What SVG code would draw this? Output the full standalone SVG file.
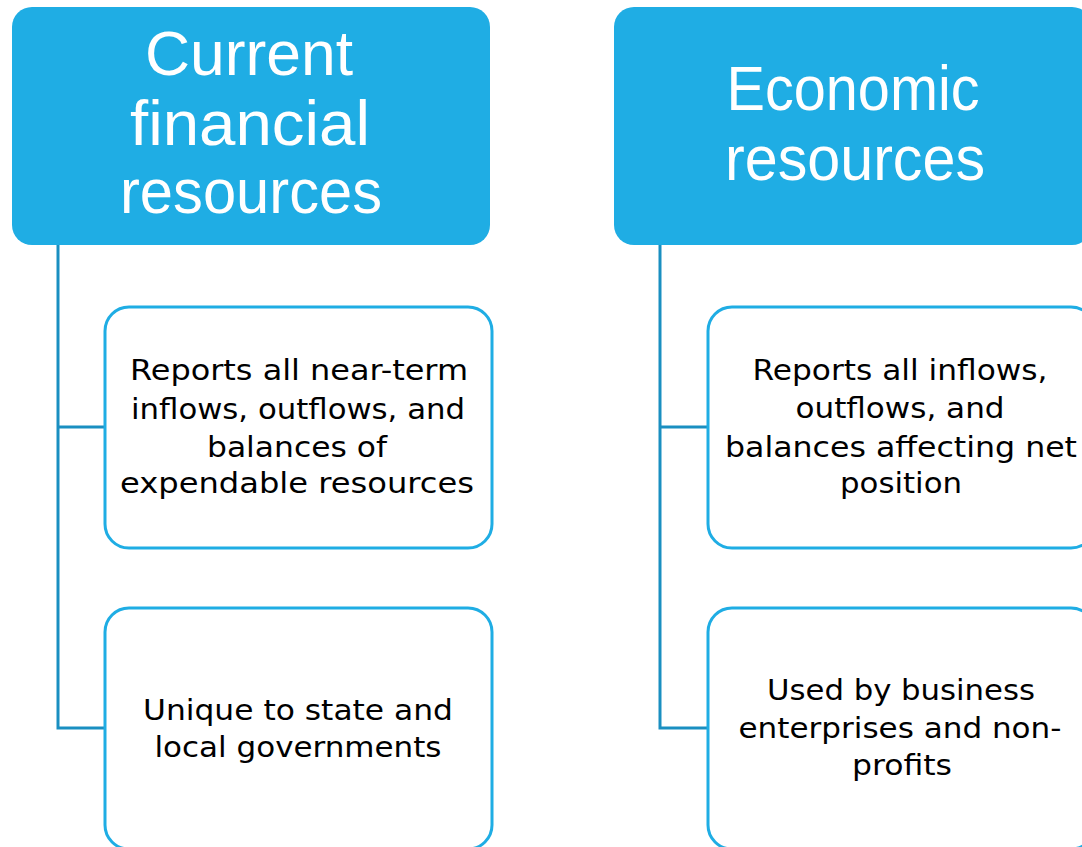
<svg xmlns="http://www.w3.org/2000/svg" width="1082" height="847" viewBox="0 0 1082 847">
  <style>
    .head { fill: #1FADE4; }
    .head-text { font-family: "Liberation Sans", Arial, sans-serif; font-size: 63px; fill: #ffffff; text-anchor: middle; }
    .item { fill: #ffffff; stroke: #1FADE4; stroke-width: 3; }
    .item-text { font-family: "DejaVu Sans", "Liberation Sans", sans-serif; font-size: 29px; fill: #000000; text-anchor: middle; }
    .link { fill: none; stroke: #1A8FC1; stroke-width: 3; }
  </style>

  <rect width="1082" height="847" fill="#ffffff"/>

  <!-- tree connectors -->
  <g id="connectors">
    <path class="link" d="M58,245 V728 H106 M58,427 H106"/>
    <path class="link" d="M660,245 V728 H708 M660,427 H708"/>
  </g>

  <!-- left column (tspans are written without whitespace between them so centring is exact) -->
  <g id="current-financial">
    <rect class="head" x="12" y="7" width="478" height="238" rx="20"/>
    <text class="head-text"><tspan x="249" y="75" textLength="208" lengthAdjust="spacingAndGlyphs">Current</tspan><tspan x="250" y="145" textLength="240" lengthAdjust="spacingAndGlyphs">financial</tspan><tspan x="251" y="213" textLength="262" lengthAdjust="spacingAndGlyphs">resources</tspan></text>
  </g>

  <g id="near-term">
    <rect class="item" x="105" y="307" width="387" height="241" rx="24"/>
    <text class="item-text"><tspan x="299" y="380" textLength="338" lengthAdjust="spacingAndGlyphs">Reports all near-term</tspan><tspan x="298" y="419" textLength="334" lengthAdjust="spacingAndGlyphs">inflows, outflows, and</tspan><tspan x="297" y="457" textLength="180" lengthAdjust="spacingAndGlyphs">balances of</tspan><tspan x="297" y="493" textLength="354" lengthAdjust="spacingAndGlyphs">expendable resources</tspan></text>
  </g>

  <g id="state-local">
    <rect class="item" x="105" y="608" width="387" height="241" rx="24"/>
    <text class="item-text"><tspan x="298" y="720" textLength="310" lengthAdjust="spacingAndGlyphs">Unique to state and</tspan><tspan x="298" y="757" textLength="287" lengthAdjust="spacingAndGlyphs">local governments</tspan></text>
  </g>

  <!-- right column -->
  <g id="economic">
    <rect class="head" x="614" y="7" width="478" height="238" rx="20"/>
    <text class="head-text"><tspan x="853" y="110" textLength="253" lengthAdjust="spacingAndGlyphs">Economic</tspan><tspan x="855" y="180" textLength="260" lengthAdjust="spacingAndGlyphs">resources</tspan></text>
  </g>

  <g id="net-position">
    <rect class="item" x="708" y="307" width="387" height="241" rx="24"/>
    <text class="item-text"><tspan x="900" y="380" textLength="295" lengthAdjust="spacingAndGlyphs">Reports all inflows,</tspan><tspan x="900" y="418" textLength="209" lengthAdjust="spacingAndGlyphs">outflows, and</tspan><tspan x="901" y="457" textLength="352" lengthAdjust="spacingAndGlyphs">balances affecting net</tspan><tspan x="901" y="493" textLength="122" lengthAdjust="spacingAndGlyphs">position</tspan></text>
  </g>

  <g id="business">
    <rect class="item" x="708" y="608" width="387" height="241" rx="24"/>
    <text class="item-text"><tspan x="901" y="700" textLength="268" lengthAdjust="spacingAndGlyphs">Used by business</tspan><tspan x="900" y="738" textLength="323" lengthAdjust="spacingAndGlyphs">enterprises and non-</tspan><tspan x="902" y="775" textLength="100" lengthAdjust="spacingAndGlyphs">profits</tspan></text>
  </g>
</svg>
